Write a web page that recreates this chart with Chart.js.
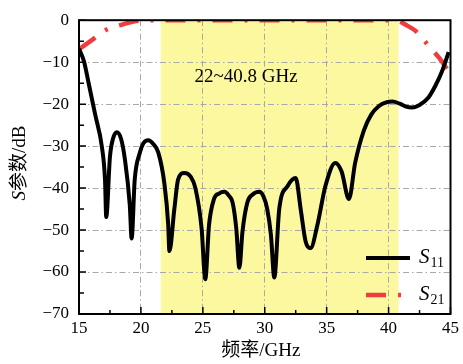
<!DOCTYPE html>
<html>
<head>
<meta charset="utf-8">
<script src="https://cdn.jsdelivr.net/npm/chart.js@4.4.1/dist/chart.umd.min.js"></script>
<style>
  html, body { margin: 0; padding: 0; background: #fff; }
  #wrap { width: 463px; height: 364px; }
</style>
</head>
<body>
<div id="wrap"><canvas id="sparam" width="463" height="364"></canvas></div>
<script>
// S11 reflection, GHz / dB
const s11Freq = [15.0, 15.4, 15.75, 16.3, 16.85, 17.1, 17.2, 17.5, 17.75, 18.05, 18.4, 18.7, 19.1, 19.25, 19.5,
  19.9, 20.2, 20.6, 21.0, 21.4, 21.9, 22.2, 22.3, 22.7, 23.0, 23.5, 24.0, 24.4, 24.9, 25.2, 25.5,
  25.9, 26.3, 26.75, 27.1, 27.4, 27.7, 27.95, 28.2, 28.6, 29.0, 29.55, 29.9, 30.2, 30.5, 30.77,
  31.17, 31.85, 32.5, 32.9, 33.3, 33.7, 34.25, 34.9, 35.7, 36.2, 36.8, 37.3, 38.0, 38.6, 39.2, 39.8,
  40.3, 40.9, 41.4, 41.9, 42.5, 43.2, 43.8, 44.3, 44.85];
const s11Db = [-6.8, -9.8, -14.6, -22.4, -30.2, -38, -46.9, -32.5, -28.2, -26.7, -28.3, -33, -44, -52, -38,
  -31.7, -29.3, -28.6, -29.5, -31.5, -39, -48.5, -55, -45, -38, -36.4, -37.2, -40, -49.6, -61.7, -48.8,
  -42.6, -41.3, -40.9, -41.8, -43.4, -49.6, -59, -50.4, -43.4, -41.6, -40.9, -42, -45, -51.2, -61.3,
  -45, -39.5, -37.6, -45, -52.7, -54.3, -48.8, -39.5, -34, -36, -42.6, -34, -26.3, -22.5, -20.5, -19.6,
  -19.4, -19.9, -20.6, -20.8, -20.2, -18.5, -15.5, -12.3, -7.6];

// S21 transmission, GHz / dB
const s21Freq = [15.0, 16.15, 17.2, 18.55, 19.9, 22, 25, 30, 35, 40, 40.8, 41.5, 42.2, 43.2, 44.3, 45.0];
const s21Db = [-6.9, -4.5, -2.3, -1.0, -0.1, 0, 0, 0, 0, 0, -0.2, -1.3, -2.6, -6.0, -9.8, -13];

const xTicks = [15, 20, 25, 30, 35, 40, 45];
const yTicks = [0, -10, -20, -30, -40, -50, -60, -70];
const passBand = [21.6, 40.8];
const passBandText = '22~40.8 GHz';
const seriesNames = ['S11', 'S21'];
const xTitle = '频率/GHz';
const yTitle = ['S', '参数/dB'];

const SERIF = "'Liberation Serif', 'Times New Roman', 'Noto Sans CJK SC', serif";

function toPoints(xs, ys) {
  return xs.map((v, i) => ({ x: v, y: ys[i] }));
}

function minusLabel(v) {
  return v < 0 ? '\u2212' + Math.abs(v) : String(v);
}

// draws "S" in italics followed by a subscript
function drawSymbol(ctx, name, x, y) {
  ctx.textBaseline = 'middle';
  ctx.textAlign = 'left';
  ctx.font = 'italic 21px ' + SERIF;
  ctx.fillText(name[0], x, y);
  const w = ctx.measureText(name[0]).width;
  ctx.font = '14px ' + SERIF;
  ctx.textBaseline = 'alphabetic';
  ctx.fillText(name.slice(1), x + w + 1, y + 10);
}

const decor = {
  id: 'decor',
  beforeDraw(chart) {
    const { ctx, chartArea: a, scales: { x } } = chart;
    const x0 = x.getPixelForValue(passBand[0]);
    const x1 = x.getPixelForValue(passBand[1]);
    ctx.save();
    ctx.fillStyle = '#fcf8a0';
    ctx.fillRect(x0, a.top, x1 - x0, a.bottom - a.top);
    ctx.restore();
  },
  afterDraw(chart) {
    const { ctx, chartArea: a, scales: { x, y } } = chart;
    ctx.save();
    ctx.strokeStyle = '#000';
    ctx.fillStyle = '#000';

    // inward ticks on bottom and left axes
    ctx.lineWidth = 1.5;
    ctx.beginPath();
    for (let v = x.min; v <= x.max + 1e-6; v += 2.5) {
      const px = x.getPixelForValue(v);
      const len = Math.abs(v % 5) < 1e-6 ? 7 : 4;
      ctx.moveTo(px, a.bottom);
      ctx.lineTo(px, a.bottom - len);
    }
    for (let v = y.min; v <= y.max + 1e-6; v += 5) {
      const py = y.getPixelForValue(v);
      const len = Math.abs(v % 10) < 1e-6 ? 7 : 5;
      ctx.moveTo(a.left, py);
      ctx.lineTo(a.left + len, py);
    }
    ctx.stroke();

    // frame
    ctx.lineWidth = 2;
    ctx.strokeRect(a.left, a.top, a.right - a.left, a.bottom - a.top);

    // pass band note
    ctx.font = '19px ' + SERIF;
    ctx.textAlign = 'center';
    ctx.textBaseline = 'middle';
    ctx.fillText(passBandText, 246, 77);

    // axis titles
    ctx.fillText(xTitle, (a.left + a.right) / 2 - 4, 351);
    ctx.save();
    ctx.translate(20, (a.top + a.bottom) / 2 - 4);
    ctx.rotate(-Math.PI / 2);
    ctx.font = 'italic 19px ' + SERIF;
    const w0 = ctx.measureText(yTitle[0]).width;
    ctx.font = '19px ' + SERIF;
    const w1 = ctx.measureText(yTitle[1]).width;
    let sx = -(w0 + w1) / 2;
    ctx.textAlign = 'left';
    ctx.font = 'italic 19px ' + SERIF;
    ctx.fillText(yTitle[0], sx, 0);
    ctx.font = '19px ' + SERIF;
    ctx.fillText(yTitle[1], sx + w0, 0);
    ctx.restore();

    // legend
    const rows = [258, 295];
    chart.data.datasets.forEach((ds, i) => {
      const ly = rows[i];
      ctx.save();
      ctx.beginPath();
      ctx.rect(a.left, 0, 410 - a.left, chart.height);
      ctx.clip();
      ctx.strokeStyle = ds.borderColor;
      ctx.lineWidth = ds.borderWidth;
      ctx.setLineDash(ds.borderDash || []);
      ctx.beginPath();
      ctx.moveTo(366, ly);
      ctx.lineTo(410, ly);
      ctx.stroke();
      ctx.restore();
      drawSymbol(ctx, ds.label, 419, ly - 1);
    });
    ctx.restore();
  }
};

new Chart(document.getElementById('sparam'), {
  type: 'line',
  data: {
    datasets: [
      {
        label: seriesNames[0],
        data: toPoints(s11Freq, s11Db),
        borderColor: '#000000',
        borderWidth: 4,
        cubicInterpolationMode: 'monotone',
        pointRadius: 0,
        order: 0
      },
      {
        label: seriesNames[1],
        data: toPoints(s21Freq, s21Db),
        borderColor: '#ef3d3d',
        borderWidth: 4.5,
        borderDash: [20, 12, 3, 12],
        cubicInterpolationMode: 'monotone',
        pointRadius: 0,
        order: 1
      }
    ]
  },
  options: {
    responsive: false,
    animation: false,
    events: [],
    layout: { padding: { top: 14, right: 11, left: 0, bottom: 0 } },
    plugins: { legend: { display: false }, tooltip: { enabled: false } },
    scales: {
      x: {
        type: 'linear',
        min: 15,
        max: 45,
        afterBuildTicks: (s) => { s.ticks = xTicks.map(v => ({ value: v })); },
        afterFit: (s) => { s.height = 50; },
        ticks: {
          color: '#000',
          font: { family: SERIF, size: 17 },
          padding: 4,
          maxRotation: 0,
          callback: minusLabel
        },
        grid: { color: '#a8a8a8', lineWidth: 1, drawTicks: false },
        border: { display: false, dash: [6, 3, 1.5, 3] }
      },
      y: {
        min: -70,
        max: 0,
        afterBuildTicks: (s) => { s.ticks = yTicks.map(v => ({ value: v })); },
        afterFit: (s) => { s.width = 79; },
        ticks: {
          color: '#000',
          font: { family: SERIF, size: 17 },
          padding: 10,
          callback: minusLabel
        },
        grid: { color: '#a8a8a8', lineWidth: 1, drawTicks: false },
        border: { display: false, dash: [6, 3, 1.5, 3] }
      }
    }
  },
  plugins: [decor]
});
</script>
</body>
</html>
